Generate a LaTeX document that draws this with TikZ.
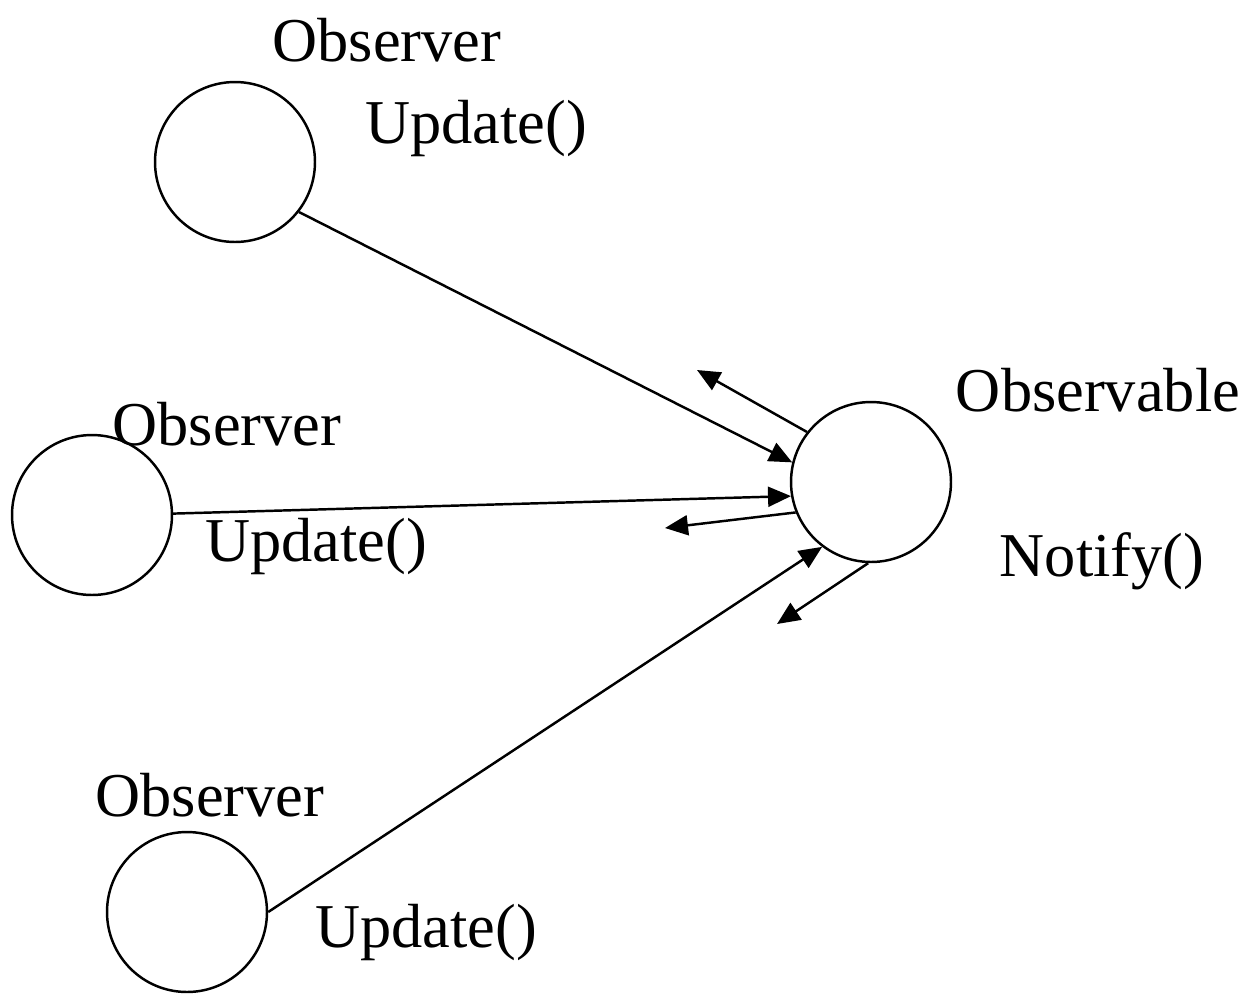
\documentclass[tikz,border=0pt]{standalone}
\usepackage{fontspec}
\setmainfont{Liberation Serif}
\usetikzlibrary{arrows.meta,positioning}

\begin{document}
\begin{tikzpicture}[x=0.02cm,y=-0.02cm,>={Triangle[length=4.6mm,width=4mm]},line width=1.4pt,
  obj/.style={draw,circle,minimum size=3.2cm,inner sep=0pt},
  lbl/.style={inner sep=0pt,font=\fontsize{35.5}{40}\selectfont}]
\useasboundingbox (0,0) rectangle (1251,995);
\node[obj] (obsA) at (235,162) {};
\node[obj] (obsB) at (92,515) {};
\node[obj] (obsC) at (187,912) {};
\node[obj] (subject) at (871,482) {};
\node[lbl] (obsAname) at (387,40) {Observer};
\node[lbl] (obsAupd) at (476,128) {Update()};
\node[lbl] (obsBname) at (227,424) {Observer};
\node[lbl] (obsBupd) at (316,546) {Update()};
\node[lbl] (obsCname) at (210,795) {Observer};
\node[lbl] (obsCupd) at (426,932) {Update()};
\node[lbl] (subjname) at (1098,390) {Observable};
\node[lbl] (notify) at (1102,561) {Notify()};
\coordinate (toA) at (697,370);
\coordinate (toB) at (665,528);
\coordinate (toC) at (777,624);
\draw[->] (obsA.-38)--(subject.166);\draw[->] (obsB.1)--(subject.190);\draw[->] (obsC.0)--(subject.233);
\draw[->] (subject.142)--(toA);\draw[->] (subject.202)--(toB);\draw[->] (subject.268)--(toC);
\end{tikzpicture}
\end{document}
